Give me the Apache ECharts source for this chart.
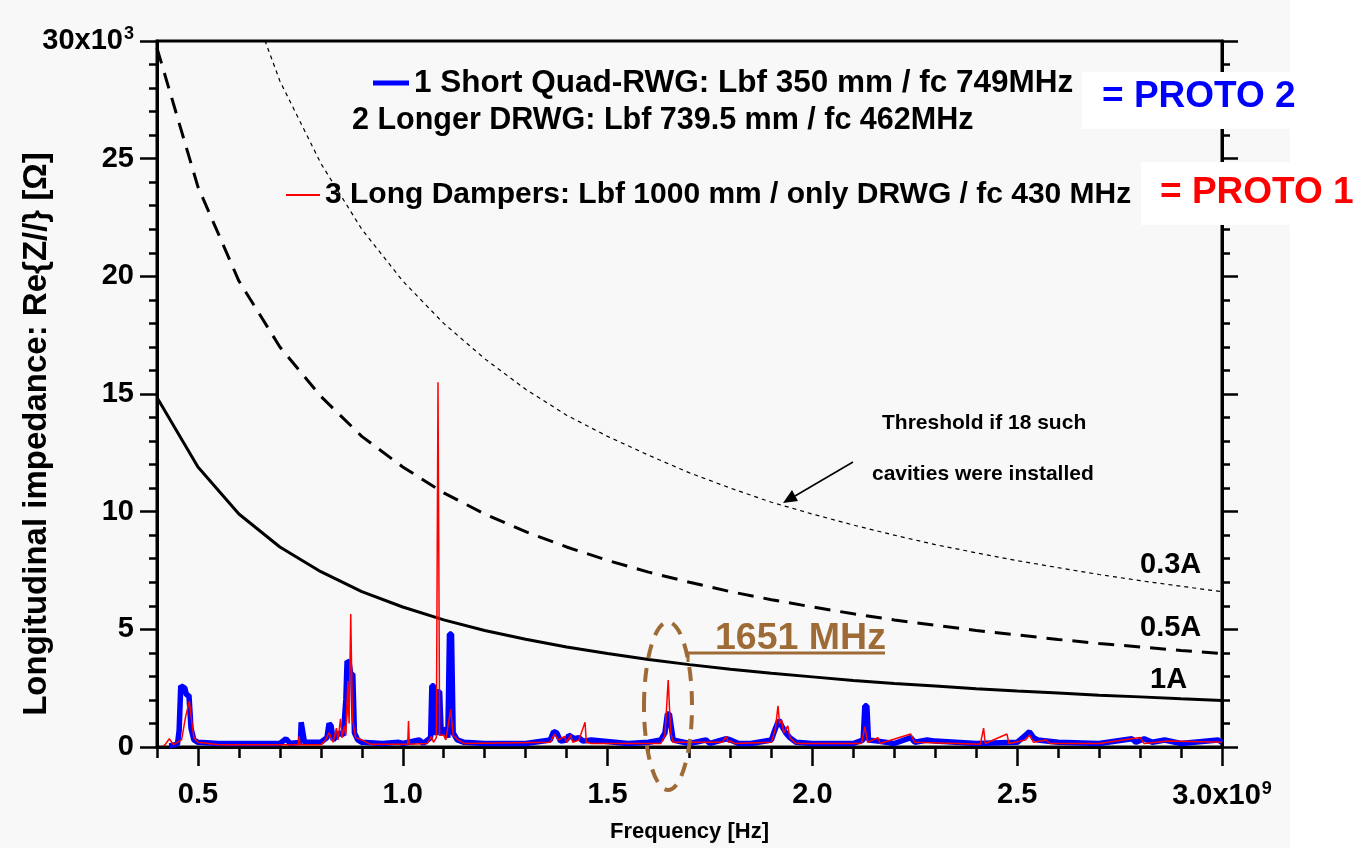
<!DOCTYPE html>
<html>
<head>
<meta charset="utf-8">
<title>Longitudinal impedance</title>
<script src="https://cdn.jsdelivr.net/npm/echarts@6/dist/echarts.min.js"></script>
<style>
  html, body { margin: 0; padding: 0; background: #fff; }
  #main { width: 1357px; height: 848px; }
</style>
</head>
<body>
<div id="main"></div>
<script>
// frequency in GHz (axis shows x10^9 Hz), impedance in kOhm (axis shows x10^3)
var thrFreq = [0.4, 0.5, 0.6, 0.7, 0.8, 0.9, 1.0, 1.1, 1.2, 1.3, 1.4, 1.5, 1.6, 1.7,
  1.8, 1.9, 2.0, 2.1, 2.2, 2.3, 2.4, 2.5, 2.6, 2.7, 2.8, 2.9, 3.0];
var thr1A = [14.85, 11.9, 9.9, 8.5, 7.45, 6.6, 5.95, 5.4, 4.95, 4.58, 4.25, 3.97, 3.72, 3.5,
  3.3, 3.13, 2.98, 2.83, 2.7, 2.59, 2.48, 2.38, 2.29, 2.2, 2.13, 2.05, 1.98];
var thr05A = [29.7, 23.8, 19.8, 17.0, 14.9, 13.2, 11.9, 10.8, 9.9, 9.15, 8.5, 7.93, 7.43, 7.0,
  6.6, 6.26, 5.95, 5.66, 5.4, 5.17, 4.95, 4.76, 4.57, 4.4, 4.25, 4.1, 3.97];
var thr03A = [49.5, 39.6, 33.0, 28.3, 24.8, 22.0, 19.8, 18.0, 16.5, 15.2, 14.1, 13.2, 12.4, 11.65,
  11.0, 10.4, 9.9, 9.43, 9.0, 8.6, 8.25, 7.92, 7.62, 7.33, 7.07, 6.83, 6.6];

// PROTO 2 (blue) : [GHz, kOhm]
var proto2 = [
  [0.43, 0.05], [0.45, 0.12], [0.454, 0.7], [0.458, 2.6], [0.463, 2.55], [0.468, 2.5],
  [0.472, 2.2], [0.478, 2.2], [0.483, 0.8], [0.49, 0.3], [0.5, 0.2], [0.55, 0.15],
  [0.7, 0.15], [0.715, 0.35], [0.725, 0.15], [0.75, 0.2], [0.752, 1.05], [0.756, 1.05],
  [0.76, 0.2], [0.8, 0.2], [0.815, 0.4], [0.82, 1.0], [0.825, 0.9], [0.83, 0.3],
  [0.845, 0.6], [0.855, 0.5], [0.861, 2.0], [0.864, 3.65], [0.869, 3.6], [0.873, 3.1],
  [0.878, 3.1], [0.882, 0.6], [0.89, 0.3], [0.9, 0.2], [0.95, 0.15], [0.99, 0.2],
  [1.0, 0.15], [1.04, 0.3], [1.05, 0.15], [1.068, 0.4], [1.071, 2.6], [1.076, 2.6],
  [1.08, 0.5], [1.085, 2.35], [1.09, 2.35], [1.094, 0.5], [1.1, 0.75], [1.106, 0.7],
  [1.11, 0.4], [1.114, 4.8], [1.119, 4.8], [1.123, 0.6], [1.133, 0.3], [1.15, 0.2],
  [1.2, 0.15], [1.3, 0.15], [1.36, 0.3], [1.368, 0.65], [1.376, 0.6], [1.385, 0.25],
  [1.4, 0.3], [1.405, 0.5], [1.415, 0.4], [1.42, 0.35], [1.43, 0.4], [1.44, 0.25],
  [1.46, 0.3], [1.55, 0.15], [1.6, 0.2], [1.63, 0.3], [1.64, 0.6], [1.646, 1.4],
  [1.651, 1.4], [1.66, 0.3], [1.7, 0.15], [1.74, 0.3], [1.75, 0.15], [1.79, 0.35],
  [1.8, 0.3], [1.82, 0.15], [1.85, 0.15], [1.9, 0.3], [1.91, 0.8], [1.918, 1.15],
  [1.925, 0.9], [1.935, 0.6], [1.945, 0.4], [1.96, 0.2], [2.0, 0.15], [2.1, 0.15],
  [2.124, 0.3], [2.128, 1.75], [2.133, 1.75], [2.137, 0.3], [2.16, 0.25], [2.2, 0.15],
  [2.24, 0.4], [2.25, 0.2], [2.28, 0.3], [2.3, 0.25], [2.4, 0.15], [2.5, 0.2],
  [2.52, 0.5], [2.53, 0.65], [2.54, 0.4], [2.55, 0.3], [2.6, 0.2], [2.7, 0.15],
  [2.78, 0.35], [2.79, 0.2], [2.81, 0.35], [2.83, 0.2], [2.86, 0.3], [2.9, 0.15],
  [2.99, 0.3], [3.0, 0.2]
];

// PROTO 1 (red)
var proto1 = [
  [0.415, 0.05], [0.42, 0.1], [0.43, 0.35], [0.44, 0.1], [0.46, 0.3], [0.47, 1.3],
  [0.479, 1.95], [0.484, 1.2], [0.49, 0.4], [0.5, 0.2], [0.55, 0.1], [0.7, 0.1],
  [0.745, 0.1], [0.747, 0.45], [0.749, 0.1], [0.8, 0.1], [0.81, 0.25], [0.82, 0.6],
  [0.83, 0.2], [0.838, 0.8], [0.842, 0.3], [0.848, 1.2], [0.852, 0.4], [0.857, 0.9],
  [0.861, 0.5], [0.866, 2.8], [0.869, 1.0], [0.873, 5.65], [0.877, 1.2], [0.885, 0.4],
  [0.9, 0.3], [0.92, 0.12], [1.0, 0.12], [1.012, 0.12], [1.014, 1.1], [1.016, 0.12],
  [1.06, 0.15], [1.07, 0.45], [1.075, 0.2], [1.082, 0.4], [1.086, 15.5], [1.09, 0.5],
  [1.1, 0.5], [1.105, 0.3], [1.117, 1.6], [1.123, 0.5], [1.135, 0.3], [1.15, 0.15],
  [1.36, 0.2], [1.37, 0.55], [1.38, 0.3], [1.395, 0.45], [1.4, 0.2], [1.41, 0.5],
  [1.415, 0.2], [1.43, 0.3], [1.445, 1.05], [1.448, 0.2], [1.46, 0.15], [1.63, 0.15],
  [1.64, 0.5], [1.648, 2.85], [1.654, 0.6], [1.66, 0.2], [1.78, 0.2], [1.79, 0.45],
  [1.795, 0.2], [1.8, 0.25], [1.81, 0.15], [1.9, 0.2], [1.91, 0.8], [1.916, 1.75],
  [1.92, 1.0], [1.925, 1.15], [1.93, 0.6], [1.94, 0.9], [1.945, 0.4], [1.96, 0.15],
  [2.12, 0.15], [2.128, 0.85], [2.135, 0.2], [2.16, 0.4], [2.165, 0.15], [2.24, 0.55],
  [2.25, 0.2], [2.41, 0.12], [2.418, 0.8], [2.422, 0.15], [2.475, 0.55], [2.48, 0.15],
  [2.52, 0.3], [2.53, 0.5], [2.54, 0.2], [2.57, 0.3], [2.58, 0.15], [2.7, 0.15],
  [2.8, 0.4], [2.81, 0.15], [2.87, 0.25], [3.0, 0.2]
];

var xLabelTicks = [0.5, 1.0, 1.5, 2.0, 2.5, 3.0];
var proto2Name = '1 Short Quad-RWG: Lbf 350 mm / fc 749MHz';
var proto1Name = '3 Long Dampers: Lbf 1000 mm / only DRWG / fc 430 MHz';

var font = "'Liberation Sans', Arial, sans-serif";
var brown = '#9e6b36';

function zip(xs, ys) {
  return xs.map(function (x, i) { return [x, ys[i]]; });
}

var chart = echarts.init(document.getElementById('main'));

chart.setOption({
  backgroundColor: '#f8f8f8',
  animation: false,
  grid: {
    left: 157, right: 135, top: 41, bottom: 100,
    show: true, borderColor: '#000', borderWidth: 3,
    backgroundColor: 'transparent'
  },
  legend: [{
    data: [proto2Name],
    left: 368, top: 62,
    icon: 'rect', itemWidth: 36, itemHeight: 5, itemGap: 6,
    textStyle: { fontFamily: font, fontWeight: 'bold', fontSize: 31.5, color: '#000' }
  }, {
    data: [proto1Name],
    left: 281, top: 175,
    icon: 'rect', itemWidth: 34, itemHeight: 2, itemGap: 6,
    textStyle: { fontFamily: font, fontWeight: 'bold', fontSize: 30, color: '#000' }
  }],
  xAxis: [{
    type: 'value', position: 'bottom',
    min: 0.4, max: 3.0, interval: 0.1,
    name: 'Frequency [Hz]', nameLocation: 'middle', nameGap: 74,
    nameTextStyle: { fontFamily: font, fontWeight: 'bold', fontSize: 22, color: '#000' },
    axisLine: { lineStyle: { color: '#000', width: 3 } },
    axisTick: { length: 11, lineStyle: { color: '#000', width: 2.5 } },
    axisLabel: {
      customValues: xLabelTicks,
      margin: 33,
      fontFamily: font, fontWeight: 'bold', fontSize: 29, color: '#000',
      formatter: function (v) {
        return v === 3 ? '3.0x10{sup|9}' : v.toFixed(1);
      },
      rich: { sup: { fontFamily: font, fontWeight: 'bold', fontSize: 18, color: '#000', verticalAlign: 'top', padding: [0, 0, 14, 1] } }
    },
    splitLine: { show: false }
  }, {
    type: 'value', position: 'bottom',
    min: 0.4, max: 3.0,
    axisLine: { show: false },
    axisTick: { customValues: xLabelTicks, length: 19, lineStyle: { color: '#000', width: 2.5 } },
    axisLabel: { show: false },
    splitLine: { show: false }
  }],
  yAxis: [{
    type: 'value', position: 'left',
    min: 0, max: 30, interval: 5,
    axisLine: { lineStyle: { color: '#000', width: 3 } },
    axisTick: { length: 17, lineStyle: { color: '#000', width: 2.5 } },
    minorTick: { show: true, splitNumber: 5, length: 8, lineStyle: { color: '#000', width: 2.5 } },
    axisLabel: {
      margin: 23,
      fontFamily: font, fontWeight: 'bold', fontSize: 29, color: '#000',
      formatter: function (v) {
        return v === 30 ? '30x10{sup|3}' : String(v);
      },
      rich: { sup: { fontFamily: font, fontWeight: 'bold', fontSize: 18, color: '#000', verticalAlign: 'top', padding: [0, 0, 14, 1] } }
    },
    splitLine: { show: false },
    minorSplitLine: { show: false }
  }, {
    type: 'value', position: 'right',
    min: 0, max: 30, interval: 5,
    axisLine: { lineStyle: { color: '#000', width: 3 } },
    axisTick: { length: 16, lineStyle: { color: '#000', width: 2.5 } },
    minorTick: { show: true, splitNumber: 5, length: 8, lineStyle: { color: '#000', width: 2.5 } },
    axisLabel: { show: false },
    splitLine: { show: false }
  }],
  series: [{
    name: '0.3A', type: 'line', data: zip(thrFreq, thr03A),
    symbol: 'none', silent: true, clip: true,
    lineStyle: { color: '#000', width: 1.2, type: [4, 4] }
  }, {
    name: '0.5A', type: 'line', data: zip(thrFreq, thr05A),
    symbol: 'none', silent: true, clip: true,
    lineStyle: { color: '#000', width: 3, type: [16, 10] }
  }, {
    name: '1A', type: 'line', data: zip(thrFreq, thr1A),
    symbol: 'none', silent: true, clip: true,
    lineStyle: { color: '#000', width: 3 }
  }, {
    name: proto2Name, type: 'line', data: proto2,
    symbol: 'none', color: '#0000ff',
    lineStyle: { color: '#0000ff', width: 5.5 }
  }, {
    name: proto1Name, type: 'line', data: proto1,
    symbol: 'none', color: '#ff0000',
    lineStyle: { color: '#ff0000', width: 1.5 }
  }],
  graphic: [
    { type: 'rect', z: -10, shape: { x: 1290, y: 0, width: 67, height: 848 }, style: { fill: '#fff' } },
    { type: 'rect', z: 10, shape: { x: 1082, y: 72, width: 214, height: 57 }, style: { fill: '#fff' } },
    { type: 'rect', z: 10, shape: { x: 1141, y: 162, width: 216, height: 63 }, style: { fill: '#fff' } },
    { type: 'text', z: 11, x: 37, y: 434, rotation: Math.PI / 2, style: { text: 'Longitudinal impedance: Re{Z//} [Ω]', fill: '#000', font: 'bold 33px ' + font, align: 'center', verticalAlign: 'middle' } },
    { type: 'text', z: 11, x: 1102, y: 97, style: { text: '= PROTO 2', fill: '#0000ff', font: 'bold 37px ' + font, verticalAlign: 'middle' } },
    { type: 'text', z: 11, x: 1160, y: 193, style: { text: '= PROTO 1', fill: '#ff0000', font: 'bold 37px ' + font, verticalAlign: 'middle' } },
    { type: 'text', z: 11, x: 352, y: 121, style: { text: '2 Longer DRWG: Lbf 739.5 mm / fc 462MHz', fill: '#000', font: 'bold 30.5px ' + font, verticalAlign: 'middle' } },
    { type: 'text', z: 11, x: 882, y: 423, style: { text: 'Threshold if 18 such', fill: '#000', font: 'bold 21px ' + font, verticalAlign: 'middle' } },
    { type: 'text', z: 11, x: 872, y: 474, style: { text: 'cavities were installed', fill: '#000', font: 'bold 21px ' + font, verticalAlign: 'middle' } },
    { type: 'line', z: 11, shape: { x1: 853, y1: 462, x2: 795, y2: 496 }, style: { stroke: '#000', lineWidth: 1.5 } },
    { type: 'polygon', z: 11, shape: { points: [[783, 503], [798, 501], [792, 490]] }, style: { fill: '#000' } },
    { type: 'text', z: 11, x: 1140, y: 565, style: { text: '0.3A', fill: '#000', font: 'bold 29px ' + font, verticalAlign: 'middle' } },
    { type: 'text', z: 11, x: 1140, y: 628, style: { text: '0.5A', fill: '#000', font: 'bold 29px ' + font, verticalAlign: 'middle' } },
    { type: 'text', z: 11, x: 1150, y: 680, style: { text: '1A', fill: '#000', font: 'bold 29px ' + font, verticalAlign: 'middle' } },
    { type: 'text', z: 11, x: 715, y: 639, style: { text: '1651 MHz', fill: brown, font: 'bold 37.5px ' + font, verticalAlign: 'middle' } },
    { type: 'polyline', z: 11, shape: { points: [[688, 662], [688, 653], [885, 653]] }, style: { stroke: brown, lineWidth: 3, fill: null } },
    { type: 'ellipse', z: 11, shape: { cx: 668, cy: 706, rx: 24, ry: 84 }, style: { stroke: brown, lineWidth: 4, fill: null, lineDash: [14, 10] } }
  ]
});
</script>
</body>
</html>
